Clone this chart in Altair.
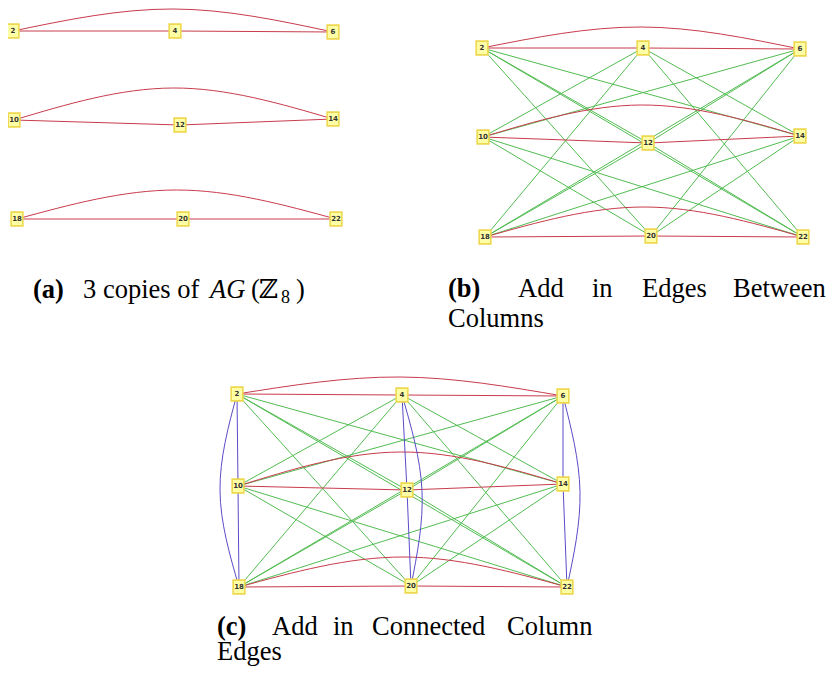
import altair as alt
import pandas as pd

# ---------------- data ----------------
labels = [2, 4, 6, 10, 12, 14, 18, 20, 22]

# node centres per panel (page pixels)
a_x = [13, 175, 333, 14, 180, 333, 17, 183, 336]
a_y = [31, 31, 32, 120, 125, 119, 219, 219, 219]
b_x = [482, 643, 800, 483, 648, 800, 485, 651, 803]
b_y = [48, 48, 49, 137, 143, 136, 237, 236, 237]
c_x = [237, 402, 563, 238, 407, 563, 239, 411, 567]
c_y = [394, 395, 396, 486, 490, 484, 587, 586, 587]

red_straight = [(2, 4), (4, 6), (10, 12), (12, 14), (18, 20), (20, 22)]
red_arcs = [(2, 6), (10, 14), (18, 22)]
green_edges = [(2, 12), (2, 14), (2, 20), (2, 22), (4, 10), (4, 14), (4, 18), (4, 22),
               (6, 10), (6, 12), (6, 18), (6, 20), (10, 20), (10, 22), (12, 18), (12, 22),
               (14, 18), (14, 20)]
blue_straight = [(2, 10), (10, 18), (4, 12), (12, 20), (6, 14), (14, 22)]
blue_arcs = [(2, 18), (4, 20), (6, 22)]

# apex of each arc (red: top y per row; blue: outer x per column)
a_red_apex = [9, 88, 190]
b_red_apex = [27, 105, 207]
c_red_apex = [377, 452, 557]
c_blue_apex = [220, 422, 580]

# ---------------- build tables ----------------
panels = {
    "a": (a_x, a_y, a_red_apex, None, False),
    "b": (b_x, b_y, b_red_apex, None, True),
    "c": (c_x, c_y, c_red_apex, c_blue_apex, True),
}

edge_rows = []
node_rows = []
eid = 0
for p, (xs, ys, rapex, bapex, green) in panels.items():
    pos = {lab: (xs[i], ys[i]) for i, lab in enumerate(labels)}
    for lab in labels:
        node_rows.append({"x": pos[lab][0], "y": pos[lab][1], "label": str(lab)})

    def add(pts, kind):
        global eid
        for k, (px, py) in enumerate(pts):
            edge_rows.append({"edge": eid, "o": k, "x": px, "y": py, "kind": kind})
        eid += 1

    if green:
        for u, v in green_edges:
            add([pos[u], pos[v]], "green")
    for u, v in red_straight:
        add([pos[u], pos[v]], "red")
    for i, (u, v) in enumerate(red_arcs):
        add([pos[u], ((pos[u][0] + pos[v][0]) / 2, rapex[i]), pos[v]], "red")
    if bapex is not None:
        for u, v in blue_straight:
            add([pos[u], pos[v]], "blue")
        for i, (u, v) in enumerate(blue_arcs):
            add([pos[u], (bapex[i], (pos[u][1] + pos[v][1]) / 2), pos[v]], "blue")

edges = pd.DataFrame(edge_rows)
nodes = pd.DataFrame(node_rows)

# captions (word starts / baselines)
cap_bold = pd.DataFrame({"t": ["(a)", "(b)", "(c)"], "x": [33, 448, 217], "y": [298, 297, 635]})
cap_norm = pd.DataFrame({
    "t": ["3 copies of", "(", "ℤ", ")", "Add", "in", "Edges", "Between", "Columns",
          "Add", "in", "Connected", "Column", "Edges"],
    "x": [83, 251, 259, 296, 518, 592, 642, 733, 448, 272, 333, 372, 507, 217],
    "y": [298, 298, 298, 298, 297, 297, 297, 297, 327, 635, 635, 635, 635, 660],
})
cap_ital = pd.DataFrame({"t": ["AG"], "x": [210], "y": [298]})
cap_sub = pd.DataFrame({"t": ["8"], "x": [281], "y": [303]})

# ---------------- chart ----------------
xs = alt.Scale(domain=[8, 827], nice=False, zero=False)
ys = alt.Scale(domain=[8, 667], nice=False, zero=False, reverse=True)
X = alt.X("x:Q", scale=xs, axis=None)
Y = alt.Y("y:Q", scale=ys, axis=None)

lines = alt.Chart(edges).mark_line(interpolate="natural", strokeWidth=1).encode(
    x=X, y=Y, detail="edge:N", order="o:Q",
    color=alt.Color("kind:N", scale=alt.Scale(domain=["green", "red", "blue"],
                                              range=["#52bc52", "#c83c4c", "#5a4cc8"]),
                    legend=None),
)

boxes = alt.Chart(nodes).mark_point(
    shape="M-0.85,-1H0.85V1H-0.85Z", size=190, filled=True, fill="#ffffa6",
    stroke="#eed850", strokeWidth=1.6, opacity=1,
).encode(x=X, y=Y)

node_text = alt.Chart(nodes).mark_text(
    font="DejaVu Sans", fontSize=7, color="#333333", fontWeight="bold"
).encode(x=X, y=Y, text="label:N")

serif = "'Liberation Serif', 'DejaVu Serif', serif"
FS = 26.5
t_bold = alt.Chart(cap_bold).mark_text(font=serif, fontSize=FS, fontWeight="bold", align="left",
                                       baseline="alphabetic", color="#000000").encode(x=X, y=Y, text="t:N")
t_norm = alt.Chart(cap_norm).mark_text(font=serif, fontSize=FS, align="left",
                                       baseline="alphabetic", color="#000000").encode(x=X, y=Y, text="t:N")
t_ital = alt.Chart(cap_ital).mark_text(font=serif, fontSize=FS, fontStyle="italic", align="left",
                                       baseline="alphabetic", color="#000000").encode(x=X, y=Y, text="t:N")
t_sub = alt.Chart(cap_sub).mark_text(font=serif, fontSize=18, align="left",
                                     baseline="alphabetic", color="#000000").encode(x=X, y=Y, text="t:N")

chart = alt.layer(lines, boxes, node_text, t_bold, t_norm, t_ital, t_sub).properties(
    width=819, height=659, autosize=alt.AutoSizeParams(type="none"), padding=0
).configure_view(stroke=None)

chart.save("out.html", embed_options={"renderer": "svg", "actions": False})
